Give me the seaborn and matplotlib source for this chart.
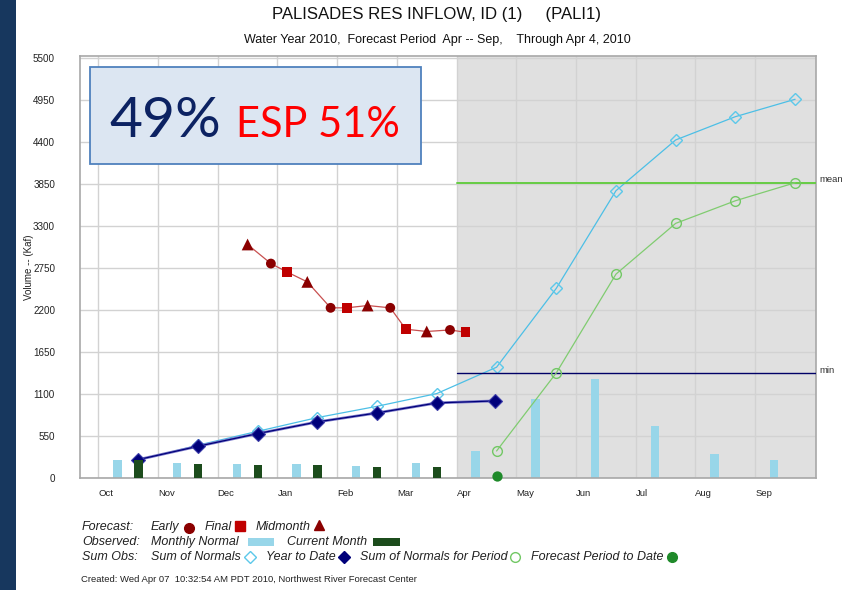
import numpy as np
import pandas as pd
import matplotlib
matplotlib.use("Agg")
import matplotlib.pyplot as plt
from matplotlib.lines import Line2D
from matplotlib.patches import Rectangle
import seaborn as sns

# ---- data (Kaf) ----
months = ["Oct", "Nov", "Dec", "Jan", "Feb", "Mar", "Apr", "May", "Jun", "Jul", "Aug", "Sep"]
monthly_normal = [232, 197, 180, 180, 153, 197, 359, 1032, 1295, 678, 320, 232]
current_month = [241, 180, 167, 167, 140, 140]                      # Oct..Mar
sum_of_normals = [235, 430, 612, 792, 940, 1107, 1452, 2485, 3765, 4430, 4735, 4963]
year_to_date = [241, 416, 582, 735, 853, 984, 1010]                 # Oct..Apr 4
period_months = ["Apr", "May", "Jun", "Jul", "Aug", "Sep"]
sum_normals_period = [354, 1377, 2672, 3337, 3633, 3869]
forecast_period_to_date = 20
mean_volume = 3870
min_volume = 1370

# forecast issue times in month units from Oct 1
fc_when = [2.50, 2.89, 3.16, 3.50, 3.89, 4.16, 4.51, 4.89, 5.15, 5.50, 5.89, 6.15]
fc_kind = ["Midmonth", "Early", "Final", "Midmonth", "Early", "Final",
           "Midmonth", "Early", "Final", "Midmonth", "Early", "Final"]
fc_value = [3060, 2810, 2700, 2570, 2230, 2230, 2260, 2230, 1950, 1920, 1940, 1910]

yticks = list(range(0, 5501, 550))

# ---- styling ----
NARROW = ["Liberation Sans Narrow", "Liberation Sans", "DejaVu Sans"]
REG = ["Liberation Sans", "DejaVu Sans"]
C_NORMAL = "#98d6e9"
C_CURRENT = "#1c4c1c"
C_SUMN = "#4cbfe6"
C_YTD = "#00007a"
C_PER = "#80cc70"
C_MEAN = "#66cc44"
C_MIN = "#000066"
C_FC_LINE = "#c85050"

sns.set_theme(style="white")
plt.rcParams["font.family"] = REG

W, H = 859, 590
fig = plt.figure(figsize=(W / 100, H / 100), dpi=100)
fig.patch.set_facecolor("white")


def fx(px):
    return px / W


def fy(py):
    return 1 - py / H


ax = fig.add_axes([fx(80), fy(478), (816 - 80) / W, (478 - 56) / H])
xlo, xhi = -0.307, 12.02
ylo, yhi = 0, 5530

mi = np.arange(len(months))
apr = months.index("Apr")

# forecast-period shading
ax.axvspan(apr, xhi, color="#e0e0e0", zorder=0.2, lw=0)

# monthly bars
df_norm = pd.DataFrame({"x": mi + 0.32, "v": monthly_normal})
sns.barplot(data=df_norm, x="x", y="v", native_scale=True, width=0.14,
            color=C_NORMAL, saturation=1, errorbar=None, linewidth=0,
            ax=ax, zorder=2)
df_cur = pd.DataFrame({"x": mi[:len(current_month)] + 0.67, "v": current_month})
sns.barplot(data=df_cur, x="x", y="v", native_scale=True, width=0.14,
            color=C_CURRENT, saturation=1, errorbar=None, linewidth=0,
            ax=ax, zorder=5)

# sum of normals
sns.lineplot(x=mi + 0.67, y=sum_of_normals, color=C_SUMN, lw=0.9,
             marker="D", markersize=6.5, markerfacecolor="none",
             markeredgecolor="#5cc8ea", markeredgewidth=1.0, ax=ax, zorder=3)

# year to date
ytd_x = list(mi[:len(year_to_date) - 1] + 0.67) + [apr + 0.64]
sns.lineplot(x=ytd_x, y=year_to_date, color="#7a78c8", lw=2.0, ax=ax, zorder=3.5)
sns.lineplot(x=ytd_x, y=year_to_date, color=C_YTD, lw=0.9, marker="D",
             markersize=7, markerfacecolor=C_YTD, markeredgecolor="#3a3aa8",
             markeredgewidth=0.8, ax=ax, zorder=4)

# sum of normals for the forecast period
per_x = np.array([months.index(m) for m in period_months]) + 0.67
sns.lineplot(x=per_x, y=sum_normals_period, color=C_PER, lw=0.9, marker="o",
             markersize=7, markerfacecolor="none", markeredgecolor="#72c865",
             markeredgewidth=1.0, ax=ax, zorder=4)

# forecast period to date
ax.scatter([apr + 0.67], [forecast_period_to_date], s=55, color="#1f8a2a",
           zorder=6, clip_on=False, lw=0)

# mean / min reference lines
xfrac = (apr - xlo) / (xhi - xlo)
ax.axhline(mean_volume, xmin=xfrac, xmax=1, color=C_MEAN, lw=1.4, zorder=3)
ax.axhline(min_volume, xmin=xfrac, xmax=1, color=C_MIN, lw=1.0, zorder=3)
ax.text(1.005, mean_volume + 45, "mean", transform=ax.get_yaxis_transform(),
        fontsize=6.8, color="#333333", va="center", ha="left", family=REG)
ax.text(1.005, min_volume + 45, "min", transform=ax.get_yaxis_transform(),
        fontsize=6.8, color="#333333", va="center", ha="left", family=REG)

# forecasts
sns.lineplot(x=fc_when, y=fc_value, color=C_FC_LINE, lw=0.9, ax=ax,
             zorder=4, sort=False)
df_fc = pd.DataFrame({"x": fc_when, "v": fc_value, "kind": fc_kind})
sns.scatterplot(data=df_fc, x="x", y="v", hue="kind", style="kind", size="kind",
                palette={"Early": "#8b0000", "Final": "#c00000", "Midmonth": "#8b0000"},
                markers={"Early": "o", "Final": "s", "Midmonth": "^"},
                sizes={"Early": 50, "Final": 48, "Midmonth": 72},
                linewidth=0, legend=False, ax=ax, zorder=5)

# axes
ax.set_xlim(xlo, xhi)
ax.set_ylim(ylo, yhi)
ax.set_xticks(mi)
ax.set_xticklabels(months, ha="left", fontsize=6.8, color="#222222")
ax.set_yticks(yticks)
ax.set_yticklabels([str(v) for v in yticks], fontsize=7.1, color="#222222")
ax.tick_params(axis="x", length=0, pad=8)
ax.tick_params(axis="y", length=0, pad=18)
ax.set_xlabel("")
ax.set_ylabel("")
ax.grid(True, color="#d2d2d2", lw=1.0)
ax.set_axisbelow(True)
ax.set_facecolor("white")
for side, sp in ax.spines.items():
    sp.set_color("#a8a8a8")
    sp.set_linewidth(1.2)

fig.text(fx(29), fy(267), "Volume -- (Kaf)", rotation=90, ha="center",
         va="center", fontsize=7, color="#222222", family=REG)

# left band
fig.patches.append(Rectangle((0, 0), fx(16), 1, transform=fig.transFigure,
                             facecolor="#17375e", edgecolor="none", zorder=0))

# titles
fig.text(fx(436), fy(14), "PALISADES RES INFLOW, ID (1)     (PALI1)",
         ha="center", va="center", fontsize=12.1, color="#111111", family=NARROW)
fig.text(fx(437), fy(40), "Water Year 2010,  Forecast Period  Apr -- Sep,    Through Apr 4, 2010",
         ha="center", va="center", fontsize=9.0, color="#111111", family=NARROW)

# percent box
fig.patches.append(Rectangle((fx(90), fy(164)), (421 - 90) / W, (164 - 67) / H,
                             transform=fig.transFigure, facecolor="#dce6f2",
                             edgecolor="#4f81bd", lw=1.3, zorder=10))
fig.text(fx(109), fy(137), "49%", ha="left", va="baseline", fontsize=41,
         color="#0c2262", family=["Lato", "DejaVu Sans"], zorder=11)
fig.text(fx(236), fy(137), "ESP 51%", ha="left", va="baseline", fontsize=30,
         color="#ff0000", family=["Lato", "DejaVu Sans"], zorder=11)

# key below the plot
kfs = 9.0
kw = dict(fontsize=kfs, style="italic", color="#222222", va="center", family=NARROW)
fig.text(fx(82), fy(527), "Forecast:", **kw)
fig.text(fx(82), fy(542), "Observed:", **kw)
fig.text(fx(82), fy(557), "Sum Obs:", **kw)


def key_text(x, y, s):
    return fig.text(fx(x), fy(y), s, **kw)


def key_marker(x, y, marker, fc, ec, ms):
    fig.add_artist(Line2D([fx(x)], [fy(y)], marker=marker, markersize=ms,
                          markerfacecolor=fc, markeredgecolor=ec,
                          markeredgewidth=1.0, transform=fig.transFigure))


key_text(151, 527, "Early")
key_marker(189, 528, "o", "#8b0000", "#8b0000", 7)
key_text(205, 527, "Final")
key_marker(240, 526, "s", "#c00000", "#c00000", 6.5)
key_text(256, 527, "Midmonth")
key_marker(319, 525, "^", "#8b0000", "#8b0000", 7.5)

key_text(151, 542, "Monthly Normal")
fig.patches.append(Rectangle((fx(248), fy(546)), 26 / W, 8 / H,
                             transform=fig.transFigure, facecolor=C_NORMAL,
                             edgecolor="none"))
key_text(287, 542, "Current Month")
fig.patches.append(Rectangle((fx(373), fy(546)), 27 / W, 8 / H,
                             transform=fig.transFigure, facecolor=C_CURRENT,
                             edgecolor="none"))

key_text(151, 557, "Sum of Normals")
key_marker(250, 557, "D", "none", "#5cc8ea", 6.5)
key_text(266, 557, "Year to Date")
key_marker(344, 557, "D", C_YTD, C_YTD, 6.5)
key_text(360, 557, "Sum of Normals for Period")
key_marker(515, 557, "o", "none", "#72c865", 7)
key_text(531, 557, "Forecast Period to Date")
key_marker(672, 557, "o", "#1f8a2a", "#1f8a2a", 7)

fig.text(fx(81), fy(579), "Created: Wed Apr 07  10:32:54 AM PDT 2010, Northwest River Forecast Center",
         fontsize=6.8, color="#222222", va="center", ha="left", family=NARROW)

fig.savefig("out.png", dpi=100)
